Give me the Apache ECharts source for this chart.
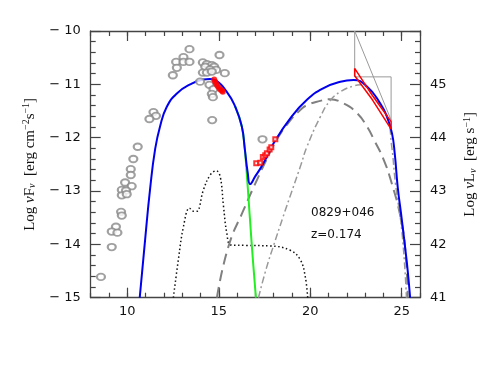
<!DOCTYPE html>
<html>
<head>
<meta charset="utf-8">
<script src="https://cdn.jsdelivr.net/npm/echarts@6/dist/echarts.min.js"></script>
<style>html,body{margin:0;padding:0;background:#fff;}#c{width:491px;height:365px;}</style>
</head>
<body>
<div id="c"></div>
<script>
// ---- data (log nu, log nuFnu) ----
const archivalPoints = [
  [13.40,-10.34],[15.04,-10.45],[13.07,-10.49],[12.67,-10.58],[13.07,-10.58],[13.40,-10.58],
  [12.71,-10.69],[14.13,-10.59],[14.35,-10.62],[14.62,-10.64],[14.75,-10.67],[14.26,-10.67],
  [14.53,-10.72],[14.86,-10.73],[14.13,-10.78],[14.35,-10.78],[14.62,-10.76],[15.33,-10.79],
  [12.49,-10.83],[13.98,-10.95],[14.49,-11.01],[14.71,-11.09],[14.62,-11.18],[14.68,-11.24],
  [11.43,-11.52],[11.57,-11.59],[11.21,-11.65],[14.64,-11.67],[10.57,-12.17],
  [10.33,-12.40],[10.19,-12.59],[10.19,-12.70],[9.88,-12.84],[10.24,-12.91],[9.70,-12.98],
  [9.93,-12.99],[9.70,-13.08],[9.97,-13.06],[9.66,-13.39],[9.70,-13.46],[9.38,-13.67],
  [9.15,-13.76],[9.46,-13.78],[9.15,-14.05],[8.56,-14.61],[17.39,-12.03]
];
const opticalPoints = [
  [14.75,-10.91],[14.80,-10.95],[14.86,-10.99],[14.93,-11.03],[15.02,-11.07],[15.10,-11.10],[15.18,-11.12],[15.22,-11.14]
];
const xrayPoints = [
  [17.05,-12.48],[17.27,-12.47],[17.41,-12.36],[17.54,-12.33],[17.63,-12.29],[17.78,-12.22],[17.87,-12.18],[18.09,-12.03]
];
const fermiBowtie = [
  [22.43,-10.70],[23.40,-11.21],[24.42,-11.70],[24.42,-11.84],[23.40,-11.29],[22.43,-10.84],[22.43,-10.70]
];
const upperLimitBox = [[22.43,-10.0],[22.43,-10.86],[24.42,-10.86],[24.42,-11.70]];
const upperLimitDiag = [[22.43,-10.0],[24.42,-11.67]];
const totalModel = [
  [10.68,-15.0],[10.97,-13.93],[11.25,-12.95],[11.52,-12.22],[11.79,-11.79],[12.16,-11.42],
  [12.71,-11.17],[13.44,-11.00],[14.16,-10.91],[14.50,-10.90],[14.80,-10.92],[15.44,-11.14],
  [15.90,-11.42],[16.26,-11.79],[16.42,-12.20],[16.58,-12.65],[16.72,-12.87],[17.00,-12.72],
  [17.27,-12.58],[17.63,-12.36],[17.99,-12.11],[18.91,-11.64],[19.82,-11.29],[20.73,-11.07],
  [21.65,-10.95],[22.37,-10.92],[23.10,-11.04],[23.83,-11.36],[24.20,-11.61],[24.47,-11.92],
  [24.62,-12.30],[24.78,-12.92],[25.00,-13.52],[25.20,-14.10],[25.33,-14.50],[25.46,-15.0]
];
const synchrotron = [
  [15.90,-11.42],[16.26,-11.79],[16.42,-12.20],[16.57,-12.86],[16.81,-14.04],[17.03,-15.0]
];
const discTorus = [
  [12.52,-15.0],[12.79,-14.29],[13.07,-13.67],[13.40,-13.32],[13.62,-13.38],[13.80,-13.38],
  [14.16,-12.98],[14.53,-12.70],[14.86,-12.62],[15.08,-12.73],[15.26,-13.29],[15.44,-13.79],
  [15.66,-14.01],[16.50,-14.02],[17.81,-14.03],[18.91,-14.11],[19.46,-14.29],[19.73,-14.61],[19.86,-15.0]
];
const sscComponent = [
  [14.90,-15.0],[15.53,-14.04],[16.35,-13.36],[17.09,-12.79],[17.60,-12.42],[18.20,-12.02],
  [18.90,-11.68],[19.40,-11.50],[19.82,-11.39],[20.55,-11.31],[21.05,-11.28],[21.83,-11.36],
  [22.56,-11.54],[23.10,-11.79],[23.50,-12.05],[24.00,-12.40],[24.45,-12.85],[24.93,-13.48],
  [25.20,-14.11],[25.33,-15.0]
];
const ecComponent = [
  [17.17,-15.0],[17.60,-14.45],[18.00,-14.02],[18.50,-13.50],[19.00,-13.00],[19.50,-12.50],
  [19.82,-12.17],[20.55,-11.61],[21.10,-11.30],[21.65,-11.14],[22.37,-11.03],[22.74,-11.01],
  [23.47,-11.23],[24.20,-11.63],[24.45,-12.15],[24.66,-12.86],[25.02,-13.79],[25.26,-15.0]
];
const xMajorTicks = [10,15,20,25];
const sourceName = '0829+046';
const redshiftText = 'z=0.174';
const lumOffset = 56; // log nuLnu = log nuFnu + 56

const chart = echarts.init(document.getElementById('c'), null, {renderer:'canvas'});
const axisCol = '#444';
const tickFont = {fontFamily:'DejaVu Sans', fontSize:13, color:'#111'};
const G = {left:90.7, top:31, width:329.3, height:266.7};

function xAx(pos, major, labels){
  const o = {
    type:'value', min:8, max:26, position:pos, gridIndex:0,
    axisLine:{show:major, lineStyle:{color:axisCol, width:1.3}},
    splitLine:{show:false},
    axisLabel: labels ? Object.assign({show:true, customValues:xMajorTicks, margin:7}, tickFont) : {show:false},
    axisTick:{show:true, inside:true, length: major?10:5, lineStyle:{color:axisCol, width:1.2}}
  };
  if (major) { o.axisTick.customValues = xMajorTicks; }
  else { o.interval = 1; }
  return o;
}

const rich = {
  sub:{fontSize:10, fontFamily:'Liberation Serif', fontStyle:'italic', verticalAlign:'bottom', padding:[6,0,0,0]},
  sup:{fontSize:10, fontFamily:'Liberation Serif', verticalAlign:'top', padding:[0,0,6,0]},
  n:{fontSize:15, fontFamily:'Liberation Serif'},
  g:{fontSize:15, fontFamily:'Liberation Serif', fontStyle:'italic'}
};

const option = {
  animation:false,
  backgroundColor:'#fff',
  grid:G,
  xAxis:[ xAx('bottom', true, true), xAx('bottom', false, false), xAx('top', true, false), xAx('top', false, false) ],
  yAxis:[
    { type:'value', min:-15, max:-10, interval:1, position:'left',
      axisLine:{show:true, lineStyle:{color:axisCol, width:1.3}},
      axisTick:{show:true, inside:true, length:10, lineStyle:{color:axisCol, width:1.2}},
      minorTick:{show:true, splitNumber:5, length:5, lineStyle:{color:axisCol, width:1.2}},
      splitLine:{show:false},
      axisLabel:Object.assign({margin:10, formatter:v=>'\u2212 '+Math.abs(v)}, tickFont),
      name:'{n|Log }{g|\u03bd}{n|F}{sub|\u03bd}{n|  [erg cm}{sup|\u22122}{n|s}{sup|\u22121}{n|]}',
      nameLocation:'middle', nameRotate:90, nameGap:53,
      nameTextStyle:{rich:rich, color:'#111'}
    },
    { type:'value', min:-15+lumOffset, max:-10+lumOffset, interval:1, position:'right',
      axisLine:{show:true, lineStyle:{color:axisCol, width:1.3}},
      axisTick:{show:true, inside:true, length:10, lineStyle:{color:axisCol, width:1.2}},
      minorTick:{show:true, splitNumber:5, length:5, lineStyle:{color:axisCol, width:1.2}},
      splitLine:{show:false},
      axisLabel:Object.assign({margin:10, formatter:v=> (v>=-10+lumOffset ? '' : String(v))}, tickFont),
      name:'{n|Log }{g|\u03bd}{n|L}{sub|\u03bd}{n|  [erg s}{sup|\u22121}{n|]}',
      nameLocation:'middle', nameRotate:90, nameGap:42,
      nameTextStyle:{rich:rich, color:'#111'}
    }
  ],
  graphic:[
    {type:'text', left:311, top:207, style:{text:sourceName, font:'12px "DejaVu Sans"', fill:'#111'}},
    {type:'text', left:311, top:229, style:{text:redshiftText, font:'12px "DejaVu Sans"', fill:'#111'}}
  ],
  series:[
    {type:'line', name:'ul1', data:upperLimitBox, symbol:'none', lineStyle:{color:'#999', width:1}, z:2},
    {type:'line', name:'ul2', data:upperLimitDiag, symbol:'none', lineStyle:{color:'#999', width:1}, z:2},
    {type:'line', name:'disc', data:discTorus, symbol:'none', smooth:0.4,
      lineStyle:{color:'#111', width:1.5, type:[1.5,2.5]}, z:3},
    {type:'line', name:'ssc', data:sscComponent, symbol:'none', smooth:0.5,
      lineStyle:{color:'#808080', width:2, type:[11,6]}, z:3},
    {type:'line', name:'ec', data:ecComponent, symbol:'none', smooth:0.5,
      lineStyle:{color:'#999', width:1.5, type:[7,3,2,3]}, z:3},
    {type:'line', name:'sync', data:synchrotron, symbol:'none', smooth:0.4,
      lineStyle:{color:'#22ee22', width:2}, z:4},
    {type:'line', name:'total', data:totalModel, symbol:'none', smooth:0.5,
      lineStyle:{color:'#0000ee', width:2}, z:5},
    {type:'scatter', name:'arch', data:archivalPoints, symbol:'emptyCircle', symbolSize:[8,6.5],
      itemStyle:{color:'#888', borderColor:'#888', borderWidth:0.9}, z:6},
    {type:'scatter', name:'opt', data:opticalPoints, symbol:'circle', symbolSize:6,
      itemStyle:{color:'#ff0000'}, z:7},
    {type:'scatter', name:'xray', data:xrayPoints, symbol:'emptyRect', symbolSize:4,
      itemStyle:{color:'#ff0000', borderColor:'#ff0000', borderWidth:1.5}, z:7},
    {type:'line', name:'fermi', data:fermiBowtie, symbol:'none', lineStyle:{color:'#ff0000', width:1.5}, z:8}
  ]
};
chart.setOption(option);
</script>
</body>
</html>
